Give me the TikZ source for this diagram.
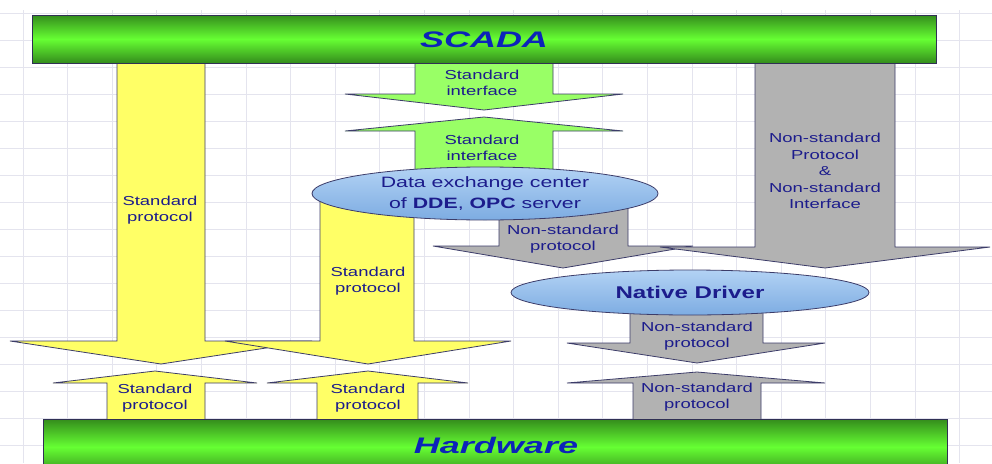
\documentclass[tikz,border=0pt]{standalone}
\usepackage{fontspec}
\setmainfont{Liberation Sans}
\newfontfamily\labfont[FakeStretch=1.42]{Liberation Sans}
\newfontfamily\ttlfont[FakeStretch=1.6]{Liberation Sans}
\usetikzlibrary{shapes.geometric}
\definecolor{navy}{RGB}{28,28,140}
\definecolor{ttlblue}{RGB}{12,36,185}
\definecolor{outl}{RGB}{60,60,105}
\definecolor{yel}{RGB}{255,255,102}
\definecolor{lgreen}{RGB}{153,255,102}
\definecolor{gry}{RGB}{178,178,178}
\definecolor{bardark}{RGB}{52,140,28}
\definecolor{barbright}{RGB}{102,255,51}
\definecolor{elltop}{RGB}{178,210,244}
\definecolor{ellbot}{RGB}{125,172,226}
\definecolor{gridc}{RGB}{228,228,238}
\begin{document}
\begin{tikzpicture}[x=1pt,y=-1pt,
  gridline/.style={draw=gridc, line width=0.7pt},
  arrowline/.style={draw=outl, line width=0.8pt, line join=miter},
  yelarrow/.style={arrowline, fill=yel},
  grnarrow/.style={arrowline, fill=lgreen},
  gryarrow/.style={arrowline, fill=gry},
  bar/.style={draw=outl!80!black, line width=0.8pt, top color=bardark, bottom color=bardark, middle color=barbright},
  oval/.style={ellipse, draw=outl, line width=0.8pt, top color=elltop, bottom color=ellbot, inner sep=0pt},
  lab/.style={text=navy, align=center, inner sep=0pt, font=\labfont\fontsize{13}{16.5}\selectfont},
  ttl/.style={text=ttlblue, inner sep=0pt, font=\ttlfont\bfseries\itshape\fontsize{22.5}{24}\selectfont}
]
\useasboundingbox (0,0) rectangle (992,463);
\clip (0,0) rectangle (992,463);
\fill[white] (0,0) rectangle (992,463);
% grid
\foreach \i in {0,...,21} \draw[gridline] ({23+44.6*\i},10) -- ({23+44.6*\i},463);
\foreach \j in {0,...,16} \draw[gridline] (0,{13+27*\j}) -- (992,{13+27*\j});

% green interface arrows
\path[grnarrow] (415,60) -- (553,60) -- (553,94) -- (623,94) -- (484,110) -- (345,94) -- (415,94) -- cycle;
\path[grnarrow] (415,185) -- (415,131) -- (345,131) -- (484,117) -- (623,131) -- (553,131) -- (553,185) -- cycle;

% yellow down arrows
\path[yelarrow] (117,60) -- (205,60) -- (205,341) -- (312,341) -- (161,364) -- (10,341) -- (117,341) -- cycle;
\path[yelarrow] (320,195) -- (414,195) -- (414,341) -- (511,341) -- (368,364) -- (225,341) -- (320,341) -- cycle;

% gray down arrows
\path[gryarrow] (499,195) -- (628,195) -- (628,246) -- (693,246) -- (563,268) -- (433,246) -- (499,246) -- cycle;
\path[gryarrow] (755,60) -- (895,60) -- (895,247) -- (990,247) -- (825,268) -- (660,247) -- (755,247) -- cycle;
\path[gryarrow] (630,295) -- (763,295) -- (763,343) -- (825,343) -- (697,363) -- (567,343) -- (630,343) -- cycle;

% up arrows
\path[yelarrow] (107,425) -- (107,383) -- (53,383) -- (155,371) -- (257,383) -- (205,383) -- (205,425) -- cycle;
\path[yelarrow] (317,425) -- (317,383) -- (267,383) -- (368,371) -- (468,383) -- (418,383) -- (418,425) -- cycle;
\path[gryarrow] (633,425) -- (633,383) -- (567,383) -- (697,372) -- (825,383) -- (761,383) -- (761,425) -- cycle;

% ellipses
\node[oval, minimum width=346pt, minimum height=53pt, text=navy,
      font=\labfont\fontsize{15}{21}\selectfont, align=center] (dde) at (485,193.5)
  {Data exchange center\\of \textbf{DDE}, \textbf{OPC} server};
\node[oval, minimum width=358pt, minimum height=45pt, text=navy,
      font=\labfont\bfseries\fontsize{17}{18}\selectfont] (nd) at (690,292.5) {Native Driver};

% bars
\path[bar] (32,15) rectangle (936,63);
\path[bar] (43,419) rectangle (947,475);
\node[ttl] (scada) at (484,40) {SCADA};
\node[ttl] (hw) at (496,445) {Hardware};

% labels
\node[lab] (l1) at (160,210) {Standard\\protocol};
\node[lab] (l2) at (482,83) {Standard\\interface};
\node[lab] (l3) at (482,148) {Standard\\interface};
\node[lab] (l4) at (563,239) {Non-standard\\protocol};
\node[lab] (l5) at (368,281) {Standard\\protocol};
\node[lab] (l6) at (825,171) {Non-standard\\Protocol\\\&\\Non-standard\\Interface};
\node[lab] (l7) at (697,336) {Non-standard\\protocol};
\node[lab] (l8) at (697,397) {Non-standard\\protocol};
\node[lab] (l9) at (155,398) {Standard\\protocol};
\node[lab] (l10) at (368,398) {Standard\\protocol};
\end{tikzpicture}
\end{document}
